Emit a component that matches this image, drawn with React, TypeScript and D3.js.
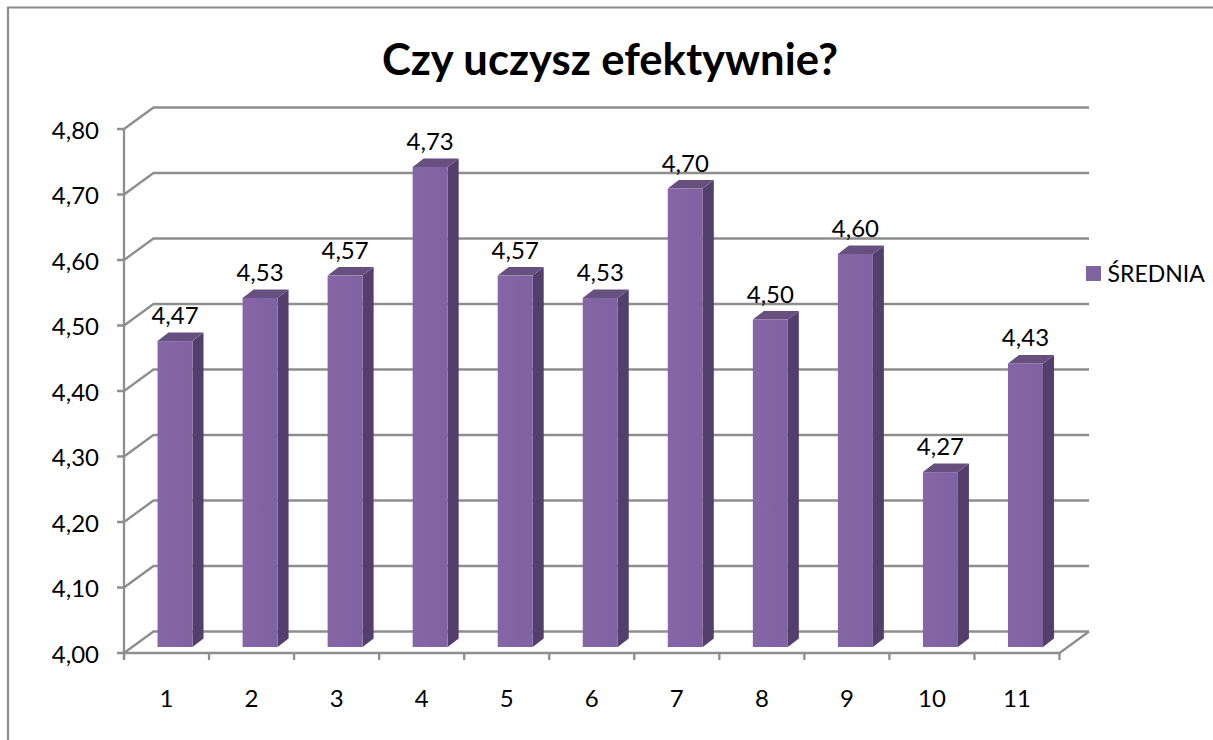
import React from "react";
import * as d3 from "d3";

const categories = ["1", "2", "3", "4", "5", "6", "7", "8", "9", "10", "11"];
const values = [4.467, 4.533, 4.567, 4.733, 4.567, 4.533, 4.7, 4.5, 4.6, 4.267, 4.433];
const ticks = [4.0, 4.1, 4.2, 4.3, 4.4, 4.5, 4.6, 4.7, 4.8];
const seriesName = "ŚREDNIA";
const titleText = "Czy uczysz efektywnie?";

const W = 1213, H = 740;
const FONT = "Lato, Carlito, 'Open Sans', sans-serif";
const GRID = "#8e8e8e";
const fmt = (v: number) => v.toFixed(2).replace(".", ",");

export default function App() {
  const x = d3.scaleBand<string>().domain(categories).range([124, 1059.5]);
  const y = d3.scaleLinear().domain([4, 4.8]).range([653, 129]);
  const wallDx = 29.5, wallDy = -21.5;
  const barW = 35, sideDx = 11, sideDy = -8.5;
  const barOffX = 8.5, barOffY = -6;

  return (
    <svg width={W} height={H} style={{ position: "absolute", left: 0, top: 0, background: "#fff" }}>
      <defs>
        <filter id="soft" x="-5%" y="-5%" width="110%" height="110%">
          <feGaussianBlur stdDeviation="0.5" />
        </filter>
        <linearGradient id="front" x1="0" x2="1" y1="0" y2="0">
          <stop offset="0" stopColor="#8566a6" />
          <stop offset="1" stopColor="#7f62a1" />
        </linearGradient>
      </defs>
      <path d={`M8 ${H} V7.5 H${W}`} fill="none" stroke="#8c8c8c" strokeWidth={2.2} />
      <text x={610} y={75} textAnchor="middle" fontFamily={FONT} fontWeight={700} fontSize={43.6} fill="#000">{titleText}</text>
      <g filter="url(#soft)" fill="none" stroke={GRID} strokeWidth={2.3}>
        {ticks.map((t) => (
          <path key={t} d={`M117 ${y(t)} H124 L${124 + wallDx} ${y(t) + wallDy} H1089`} />
        ))}
        <path d={`M124 ${y(4.8)} V${y(4) + 7}`} />
        <path d={`M124 ${y(4)} H1059.5 L1089 ${y(4) + wallDy}`} />
        {[...categories.map((c) => x(c)!), 1059.5].map((px, i) => (
          <path key={i} d={`M${px} ${y(4)} V${y(4) + 7}`} />
        ))}
      </g>
      <g fontFamily={FONT} fontSize={24} fill="#000">
        {ticks.map((t) => (
          <text key={t} x={99} y={y(t) + 9.5} textAnchor="end">{fmt(t)}</text>
        ))}
        {categories.map((c) => (
          <text key={c} x={x(c)! + x.bandwidth() / 2} y={707} textAnchor="middle">{c}</text>
        ))}
      </g>
      {categories.map((c, i) => {
        const cx = x(c)! + x.bandwidth() / 2 + barOffX;
        const l = cx - barW / 2, r = cx + barW / 2;
        const b = y(4) + barOffY;
        const t = b - (y(4) - y(values[i]));
        return (
          <g key={c}>
            <path d={`M${r} ${b} L${r + sideDx} ${b + sideDy} V${t + sideDy} L${r} ${t} Z`} fill="#533f6c" />
            <path d={`M${l} ${t} L${l + sideDx} ${t + sideDy} H${r + sideDx} L${r} ${t} Z`} fill="#67507f" />
            <rect x={l} y={t} width={barW} height={b - t} fill="url(#front)" />
            <text x={cx} y={t - 17} textAnchor="middle" fontFamily={FONT} fontSize={24} fill="#000">{fmt(values[i])}</text>
          </g>
        );
      })}
      <rect x={1086} y={266} width={15} height={15} fill="#8064a2" />
      <text x={1107.5} y={282} fontFamily={FONT} fontSize={23} fill="#000">{seriesName}</text>
    </svg>
  );
}
